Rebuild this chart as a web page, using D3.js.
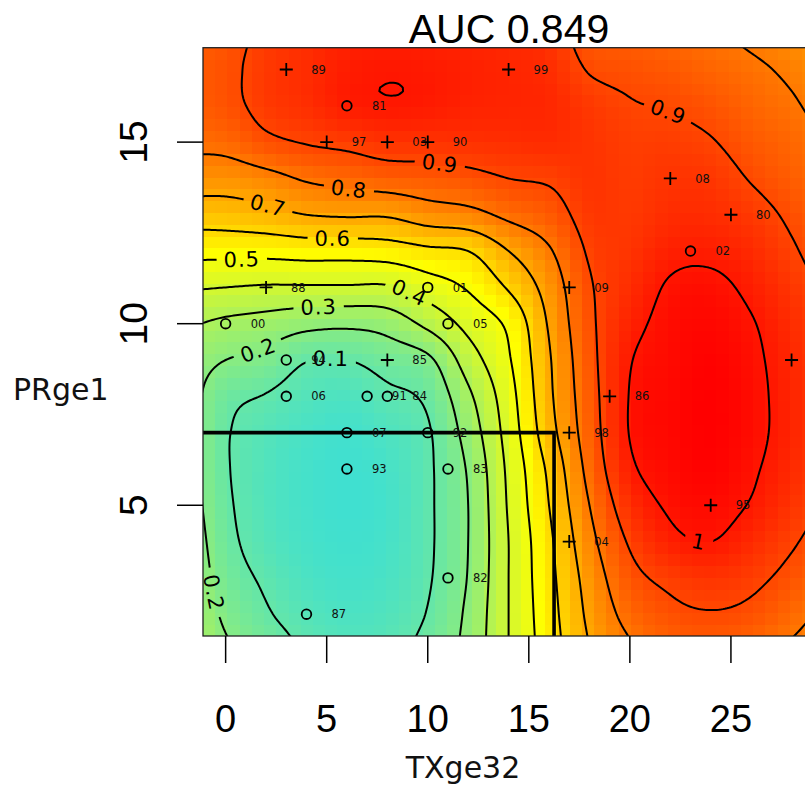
<!DOCTYPE html>
<html><head><meta charset="utf-8">
<script src="https://cdn.jsdelivr.net/npm/d3@7"></script>
<style>html,body{margin:0;padding:0;background:#fff;} svg{display:block;}</style>
</head><body>
<script>
// ---------------- data ----------------
const chartTitle = "AUC 0.849";
const xTitle = "TXge32";
const yTitle = "PRge1";
const xTicks = [0, 5, 10, 15, 20, 25];
const yTicks = [5, 10, 15];
const xDomain = [-1.12, 29.12];
const yDomain = [1.4, 17.6];

// fitted surface: one column per gridX value, rows for gridY = 1..18
const gridX = [-2, 0, 2, 4, 6, 8, 10, 12, 14, 16, 18, 20, 22, 24, 26, 28, 30];
const gridY = [1, 2, 3, 4, 5, 6, 7, 8, 9, 10, 11, 12, 13, 14, 15, 16, 17, 18];
const zColumns = [
  [0.33,0.31,0.29,0.27,0.25,0.24,0.24,0.24,0.25,0.31,0.41,0.53,0.645,0.75,0.82,0.855,0.86,0.85],
  [0.215,0.18,0.15,0.13,0.118,0.11,0.11,0.13,0.20,0.28,0.40,0.53,0.65,0.745,0.83,0.875,0.88,0.87],
  [0.15,0.11,0.085,0.06,0.05,0.05,0.06,0.095,0.17,0.26,0.39,0.53,0.67,0.77,0.88,0.925,0.93,0.92],
  [0.09,0.06,0.035,0.02,0.015,0.015,0.025,0.055,0.105,0.23,0.39,0.54,0.70,0.81,0.905,0.95,0.955,0.95],
  [0.06,0.035,0.015,0.005,0.0,0.0,0.01,0.04,0.10,0.22,0.39,0.54,0.71,0.83,0.92,0.985,0.987,0.975],
  [0.07,0.05,0.03,0.02,0.015,0.02,0.04,0.08,0.14,0.24,0.39,0.55,0.71,0.85,0.94,0.995,0.997,0.98],
  [0.13,0.105,0.09,0.085,0.085,0.085,0.09,0.12,0.18,0.325,0.45,0.58,0.75,0.86,0.94,0.99,0.992,0.975],
  [0.23,0.22,0.205,0.2,0.2,0.21,0.24,0.28,0.35,0.43,0.51,0.60,0.77,0.875,0.945,0.975,0.98,0.97],
  [0.40,0.40,0.40,0.40,0.41,0.42,0.44,0.46,0.49,0.52,0.61,0.70,0.82,0.90,0.95,0.97,0.97,0.96],
  [0.55,0.56,0.57,0.58,0.60,0.62,0.66,0.68,0.69,0.71,0.74,0.79,0.86,0.91,0.955,0.965,0.955,0.94],
  [0.70,0.72,0.74,0.77,0.80,0.83,0.85,0.86,0.87,0.88,0.89,0.91,0.93,0.94,0.94,0.93,0.895,0.865],
  [0.79,0.83,0.87,0.91,0.95,0.985,1.003,1.003,0.995,0.975,0.955,0.94,0.93,0.925,0.92,0.905,0.88,0.85],
  [0.84,0.88,0.92,0.98,1.01,1.025,1.03,1.03,1.025,1.02,1.008,0.98,0.955,0.94,0.92,0.895,0.865,0.83],
  [0.85,0.895,0.94,1.0,1.025,1.04,1.045,1.045,1.04,1.03,1.015,0.985,0.955,0.935,0.905,0.875,0.84,0.81],
  [0.83,0.88,0.92,0.96,0.995,1.01,1.02,1.02,1.015,1.005,0.985,0.96,0.93,0.895,0.865,0.84,0.815,0.785],
  [0.79,0.83,0.875,0.91,0.94,0.96,0.97,0.97,0.965,0.955,0.935,0.91,0.885,0.855,0.835,0.81,0.785,0.755],
  [0.75,0.78,0.82,0.86,0.89,0.91,0.92,0.92,0.915,0.905,0.885,0.86,0.835,0.815,0.795,0.77,0.745,0.72]
];
const contourLevels = [0.1, 0.2, 0.3, 0.4, 0.5, 0.6, 0.7, 0.8, 0.9, 1];
// where each contour label sits (level, x, y)
const labelLevels = [0.9, 0.9, 0.8, 0.7, 0.6, 0.5, 0.4, 0.3, 0.2, 0.2, 0.1, 1];
const labelX = [10.6, 22.1, 6.05, 2.05, 5.3, 0.8, 9.0, 4.6, 1.45, -0.3, 5.2, 23.4];
const labelY = [14.3, 16.2, 13.6, 13.15, 12.3, 11.77, 10.75, 10.5, 9.44, 2.6, 8.85, 3.95];

// observations
const obsX = [3, 14, 5, 8, 10, 22, 25, 2, 17, 8, 28, 19, 17, 17, 24,
              6, 23, 10, 0, 11, 3, 3, 7, 8, 6, 10, 6, 11, 11, 4];
const obsY = [17, 17, 15, 15, 15, 14, 13, 11, 11, 9, 9, 8, 7, 4, 5,
              16, 12, 11, 10, 10, 9, 8, 8, 8, 7, 7, 6, 6, 3, 2];
const obsLabel = ["89","99","97","03","90","08","80","88","09","85","","86","98","04","95",
                  "81","02","01","00","05","94","06","91","84","07","92","93","83","82","87"];
const obsEvent = [1,1,1,1,1,1,1,1,1,1,1,1,1,1,1,
                  0,0,0,0,0,0,0,0,0,0,0,0,0,0,0];
const splitX = 16.25, splitY = 7;

// ---------------- drawing ----------------
const W = 805, H = 787;
const plot = {left: 203, right: 814.2, top: 47.7, bottom: 636};
const xs = d3.scaleLinear().domain(xDomain).range([plot.left, plot.right]);
const ys = d3.scaleLinear().domain(yDomain).range([plot.bottom, plot.top]);

const svg = d3.select("body").append("svg").attr("width", W).attr("height", H);

// bicubic (Catmull-Rom) evaluation of the read surface
function cr(p0, p1, p2, p3, t) {
  return p1 + 0.5 * t * (p2 - p0 + t * (2*p0 - 5*p1 + 4*p2 - p3 + t * (3*(p1 - p2) + p3 - p0)));
}
const nX = gridX.length, nY = gridY.length;
const gx0 = gridX[0], gdx = gridX[1] - gridX[0], gy0 = gridY[0], gdy = gridY[1] - gridY[0];
function zAt(x, y) {
  let fx = (x - gx0) / gdx, fy = (y - gy0) / gdy;
  fx = Math.max(0, Math.min(nX - 1.000001, fx));
  fy = Math.max(0, Math.min(nY - 1.000001, fy));
  const i = Math.floor(fx), j = Math.floor(fy), tx = fx - i, ty = fy - j;
  const ci = k => zColumns[Math.max(0, Math.min(nX - 1, k))];
  const cj = (col, k) => col[Math.max(0, Math.min(nY - 1, k))];
  const colVals = [];
  for (let a = -1; a <= 2; a++) {
    const col = ci(i + a);
    colVals.push(cr(cj(col, j - 1), cj(col, j), cj(col, j + 1), cj(col, j + 2), ty));
  }
  return cr(colVals[0], colVals[1], colVals[2], colVals[3], tx);
}

const zMin = d3.min(zColumns.flat()), zMax = d3.max(zColumns.flat());
const color = d3.scaleLinear()
  .domain([zMin, (zMin + zMax) / 2, zMax])
  .range(["#40E0D0", "#FFFF00", "#FF0000"])
  .interpolate(d3.interpolateRgb).clamp(true);

svg.append("defs").append("clipPath").attr("id", "plotClip")
  .append("rect").attr("x", plot.left).attr("y", plot.top)
  .attr("width", plot.right - plot.left).attr("height", plot.bottom - plot.top);

// raster
const nCell = 50;
const cw = (xDomain[1] - xDomain[0]) / nCell, ch = (yDomain[1] - yDomain[0]) / nCell;
const cells = [];
for (let i = 0; i < nCell; i++) for (let j = 0; j < nCell; j++) {
  const cx = xDomain[0] + (i + 0.5) * cw, cy = yDomain[0] + (j + 0.5) * ch;
  cells.push({i, j, z: zAt(cx, cy)});
}
const gHeat = svg.append("g").attr("clip-path", "url(#plotClip)");
gHeat.selectAll("rect").data(cells).join("rect")
  .attr("x", d => xs(xDomain[0] + d.i * cw))
  .attr("y", d => ys(yDomain[0] + (d.j + 1) * ch))
  .attr("width", xs(cw) - xs(0) + 0.6)
  .attr("height", ys(0) - ys(ch) + 0.6)
  .attr("fill", d => color(d.z))
  .attr("shape-rendering", "crispEdges");

// contour grid (extends beyond the plot to avoid border artifacts)
const step = 0.1;
const cx0 = -2, cy0 = 0.6;
const cnx = Math.round((30.5 - cx0) / step) + 1, cny = Math.round((18.4 - cy0) / step) + 1;
const vals = new Array(cnx * cny);
for (let j = 0; j < cny; j++) for (let i = 0; i < cnx; i++) {
  vals[j * cnx + i] = zAt(cx0 + i * step, cy0 + j * step);
}
const contours = d3.contours().size([cnx, cny]).thresholds(contourLevels)(vals);
const toData = (c) => [cx0 + (c[0] - 0.5) * step, cy0 + (c[1] - 0.5) * step];
const proj = d3.geoTransform({
  point: function(a, b) { const d = toData([a, b]); this.stream.point(xs(d[0]), ys(d[1])); }
});
const path = d3.geoPath(proj);

// contour labels and gaps
const defs = svg.select("defs");
const mask = defs.append("mask").attr("id", "gapMask").attr("maskUnits", "userSpaceOnUse")
  .attr("x", 0).attr("y", 0).attr("width", W).attr("height", H);
mask.append("rect").attr("x", 0).attr("y", 0).attr("width", W).attr("height", H).attr("fill", "white");

const gLabels = svg.append("g");
const labFont = 21;
labelLevels.forEach((lev, k) => {
  const c = contours.find(cc => Math.abs(cc.value - lev) < 1e-9);
  if (!c) return;
  const tx = xs(labelX[k]), ty = ys(labelY[k]);
  let best = null;
  c.coordinates.forEach(poly => poly.forEach(ring => {
    const pts = ring.map(p => { const d = toData(p); return [xs(d[0]), ys(d[1])]; });
    pts.forEach((p, idx) => {
      const dd = (p[0] - tx) ** 2 + (p[1] - ty) ** 2;
      if (!best || dd < best.dd) best = {dd, pts, idx};
    });
  }));
  if (!best) return;
  const {pts, idx} = best;
  const n = pts.length;
  function walk(dir) {
    let i = idx, len = 0;
    while (len < 14) {
      const ni = (i + dir + n) % n;
      len += Math.hypot(pts[ni][0] - pts[i][0], pts[ni][1] - pts[i][1]);
      i = ni; if (i === idx) break;
    }
    return pts[i];
  }
  const a = walk(-1), b = walk(1);
  let ang = Math.atan2(b[1] - a[1], b[0] - a[0]) * 180 / Math.PI;
  if (ang > 90) ang -= 180;
  if (ang <= -90) ang += 180;
  const p = pts[idx];
  const txt = gLabels.append("text")
    .attr("transform", `translate(${p[0]},${p[1]}) rotate(${ang})`)
    .attr("text-anchor", "middle").attr("dy", "0.36em")
    .attr("font-family", "DejaVu Sans, sans-serif").attr("font-size", labFont)
    .attr("letter-spacing", 1)
    .attr("fill", "#000").text(String(lev));
  const tl = txt.node().getComputedTextLength();
  mask.append("rect")
    .attr("transform", `translate(${p[0]},${p[1]}) rotate(${ang})`)
    .attr("x", -tl / 2 - 7).attr("y", -labFont * 0.45)
    .attr("width", tl + 14).attr("height", labFont * 0.9)
    .attr("fill", "black");
});

const gCont = svg.insert("g", function() { return gLabels.node(); })
  .attr("clip-path", "url(#plotClip)");
gCont.append("g").attr("mask", "url(#gapMask)")
  .selectAll("path").data(contours).join("path")
  .attr("d", d => path(d))
  .attr("fill", "none").attr("stroke", "#000").attr("stroke-width", 2)
  .attr("stroke-linejoin", "round");

// split lines
svg.append("path")
  .attr("d", `M${plot.left},${ys(splitY)}H${xs(splitX)}V${plot.bottom}`)
  .attr("fill", "none").attr("stroke", "#000").attr("stroke-width", 3.6);

// observations
const gPts = svg.append("g");
obsX.forEach((x, k) => {
  const px = xs(x), py = ys(obsY[k]);
  if (obsEvent[k] === 1) {
    gPts.append("path").attr("d", `M${px - 6.5},${py}H${px + 6.5}M${px},${py - 6.5}V${py + 6.5}`)
      .attr("stroke", "#000").attr("stroke-width", 1.8).attr("fill", "none");
  } else {
    gPts.append("circle").attr("cx", px).attr("cy", py).attr("r", 4.8)
      .attr("stroke", "#000").attr("stroke-width", 1.8).attr("fill", "none");
  }
  gPts.append("text").attr("x", px + 25).attr("y", py).attr("dy", "0.36em")
    .attr("font-family", "DejaVu Sans, sans-serif").attr("font-size", 11.5)
    .attr("fill", "#111").text(obsLabel[k]);
});

// frame
svg.append("rect").attr("x", plot.left).attr("y", plot.top)
  .attr("width", plot.right - plot.left).attr("height", plot.bottom - plot.top)
  .attr("fill", "none").attr("stroke", "#222").attr("stroke-width", 1.3);

// axes
const gx = svg.append("g");
xTicks.forEach(t => {
  gx.append("line").attr("x1", xs(t)).attr("x2", xs(t)).attr("y1", plot.bottom).attr("y2", 663)
    .attr("stroke", "#000").attr("stroke-width", 1.5);
  gx.append("text").attr("x", xs(t)).attr("y", 732).attr("text-anchor", "middle")
    .attr("font-family", "Liberation Sans, Arial, sans-serif").attr("font-size", 38)
    .attr("fill", "#000").text(t);
});
const gy = svg.append("g");
yTicks.forEach(t => {
  gy.append("line").attr("x1", 177).attr("x2", plot.left).attr("y1", ys(t)).attr("y2", ys(t))
    .attr("stroke", "#000").attr("stroke-width", 1.5);
  gy.append("text").attr("transform", `translate(147,${ys(t)}) rotate(-90)`)
    .attr("text-anchor", "middle")
    .attr("font-family", "Liberation Sans, Arial, sans-serif").attr("font-size", 39)
    .attr("fill", "#000").text(t);
});

svg.append("text").attr("x", 509).attr("y", 43).attr("text-anchor", "middle")
  .attr("font-family", "Liberation Sans, Arial, sans-serif").attr("font-size", 41)
  .attr("fill", "#000").text(chartTitle);
svg.append("text").attr("x", 463).attr("y", 778).attr("text-anchor", "middle")
  .attr("font-family", "DejaVu Sans, sans-serif").attr("font-size", 30)
  .attr("fill", "#111").text(xTitle);
svg.append("text").attr("x", 13).attr("y", 400).attr("text-anchor", "start")
  .attr("font-family", "DejaVu Sans, sans-serif").attr("font-size", 30)
  .attr("fill", "#111").text(yTitle);
</script>
</body></html>
